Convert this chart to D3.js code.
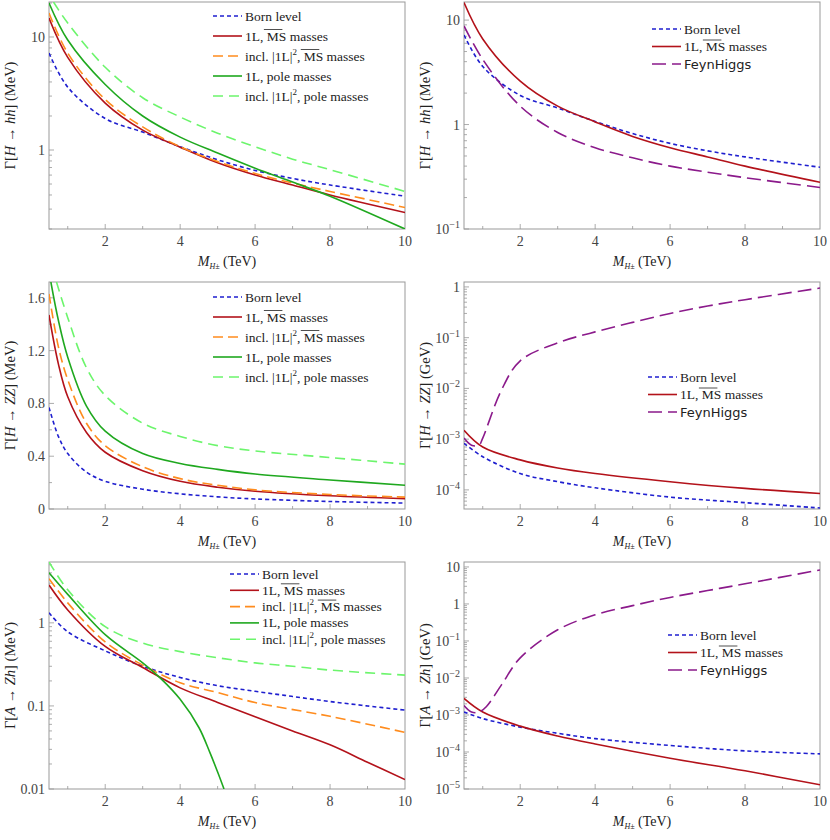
<!DOCTYPE html>
<html><head><meta charset="utf-8">
<script src="https://cdn.jsdelivr.net/npm/d3@7"></script>
<style>body{margin:0;background:#fff}text{font-family:"Liberation Serif",serif}</style>
</head><body><svg id="c" width="830" height="840"></svg>
<script>
// x grid (TeV) shared by most series
const xs = [0.5, 1, 2, 3, 4, 5, 6, 7, 8, 10];

// hh (MeV)
const hhBorn = [7.2, 3.6, 1.9, 1.44, 1.07, 0.82, 0.66, 0.56, 0.49, 0.39];
const hh1L = [14.7, 6.6, 2.6, 1.5, 1.06, 0.77, 0.60, 0.49, 0.40, 0.28];
const hh1L2 = [16.3, 7.2, 2.8, 1.6, 1.07, 0.79, 0.62, 0.51, 0.43, 0.31];
const hhPole = [20, 9.4, 3.8, 2.0, 1.3, 0.94, 0.69, 0.52, 0.39, 0.2];
const hhPoleX = [0.62, 1, 2, 3, 4, 5, 6, 7, 8, 10];
const hhPole2 = [20.4, 13.3, 5.4, 2.9, 1.96, 1.41, 1.07, 0.83, 0.67, 0.43];
const hhFH = [8.8, 4.2, 1.5, 0.84, 0.60, 0.48, 0.40, 0.35, 0.31, 0.25];

// ZZ (MeV)
const zzX = [0.5, 0.75, 1, 1.5, 2, 3, 4, 5, 6, 8, 10];
const zzBorn = [0.77, 0.55, 0.42, 0.28, 0.21, 0.15, 0.115, 0.092, 0.076, 0.057, 0.045];
const zz1L = [1.47, 1.1, 0.85, 0.58, 0.43, 0.29, 0.21, 0.165, 0.135, 0.10, 0.078];
const zz1L2 = [1.63, 1.23, 0.98, 0.65, 0.48, 0.32, 0.23, 0.18, 0.145, 0.11, 0.09];
const zzPoleX = [0.55, 0.75, 1, 1.5, 2, 3, 4, 5, 6, 8, 10];
const zzPole = [1.72, 1.43, 1.15, 0.78, 0.59, 0.42, 0.345, 0.30, 0.265, 0.22, 0.18];
const zzPole2X = [0.7, 1, 1.5, 2, 3, 4, 5, 6, 8, 10];
const zzPole2 = [1.72, 1.45, 1.07, 0.86, 0.65, 0.55, 0.48, 0.44, 0.39, 0.34];
// ZZ (GeV)
const zzGX = [0.5, 1, 2, 3, 4, 6, 8, 10];
const zzGBorn = [8.3e-4, 4.5e-4, 2.1e-4, 1.45e-4, 1.1e-4, 7.2e-5, 5.6e-5, 4.4e-5];
const zzG1L = [1.5e-3, 7.0e-4, 3.9e-4, 2.7e-4, 2.1e-4, 1.45e-4, 1.07e-4, 8.5e-5];
const zzFHX = [0.5, 0.7, 0.9, 1, 1.5, 2, 3, 4, 5, 6, 7, 8, 10];
const zzFH = [1.05e-3, 7.6e-4, 7.6e-4, 1.05e-3, 9.3e-3, 0.035, 0.079, 0.13, 0.2, 0.3, 0.42, 0.56, 0.95];

// Zh (MeV)
const zhX = [0.5, 1, 2, 3, 4, 5, 6, 7, 8, 9, 10];
const zhBorn = [1.32, 0.78, 0.46, 0.30, 0.22, 0.175, 0.15, 0.13, 0.113, 0.1, 0.089];
const zh1L = [2.85, 1.43, 0.52, 0.29, 0.165, 0.11, 0.074, 0.05, 0.034, 0.021, 0.013];
const zh1L2X = [0.5, 1, 2, 3, 4, 5, 6, 8, 10];
const zh1L2 = [3.4, 1.74, 0.59, 0.31, 0.19, 0.145, 0.11, 0.075, 0.048];
const zhPoleX = [0.5, 1, 2, 3, 3.5, 4, 4.5, 4.8, 5, 5.17];
const zhPole = [4.0, 2.2, 0.72, 0.33, 0.21, 0.12, 0.055, 0.027, 0.016, 0.01];
const zhPole2X = [0.5, 1, 2, 3, 4, 5, 6, 7, 8, 10];
const zhPole2 = [5.4, 2.5, 0.9, 0.57, 0.45, 0.38, 0.33, 0.30, 0.27, 0.235];
// Zh (GeV)
const zhGX = [0.5, 1, 2, 3, 4, 6, 8, 10];
const zhGBorn = [1.2e-3, 8e-4, 4.7e-4, 3.2e-4, 2.3e-4, 1.5e-4, 1.07e-4, 8.9e-5];
const zhG1L = [2.8e-3, 1.2e-3, 5e-4, 2.7e-4, 1.65e-4, 6.8e-5, 3.1e-5, 1.3e-5];
const zhFHX = [0.5, 0.7, 0.9, 1.1, 1.5, 2, 3, 4, 5, 6, 7, 8, 10];
const zhFH = [1.8e-3, 1.2e-3, 1.2e-3, 1.7e-3, 6.5e-3, 0.035, 0.2, 0.51, 0.9, 1.5, 2.3, 3.5, 8.3];

const xTicks = [2, 4, 6, 8, 10];

const st = {
  born: {c: "#1f1fcf", d: "4,3", name: [["Born level"]]},
  l1: {c: "#b3121a", d: null, name: [["1L, "], ["MS", "ov"], [" masses"]]},
  l12: {c: "#ff8c1e", d: "10,5", name: [["incl. |1L|"], ["2", "sup"], [", ", "down"], ["MS", "ov"], [" masses"]]},
  pole: {c: "#1fa81f", d: null, name: [["1L, pole masses"]]},
  pole2: {c: "#6cf56c", d: "10,6", name: [["incl. |1L|"], ["2", "sup"], [", pole masses", "down"]]},
  fh: {c: "#8b1a8b", d: "14,6", name: [["FeynHiggs", "sans"]]}
};

const rows = [2, 282, 562], H = 227;
const panels = [
  {x0: 49, y0: rows[0], log: true, dom: [0.2, 20.4], yt: [1, 10], yl: ["1", "10"], proc: ["H", "hh"], unit: "MeV",
   series: [["born", xs, hhBorn], ["l1", xs, hh1L], ["l12", xs, hh1L2], ["pole", xs, hhPole], ["pole2", hhPoleX, hhPole2]],
   leg: {x: 213, y: 16, dy: 20}},
  {x0: 464, y0: rows[0], log: true, dom: [0.1, 14.9], yt: [0.1, 1, 10], yl: [["10", "−1"], "1", "10"], proc: ["H", "hh"], unit: "MeV",
   series: [["born", xs, hhBorn], ["l1", xs, hh1L], ["fh", xs, hhFH]],
   leg: {x: 652, y: 29, dy: 17.5}},
  {x0: 49, y0: rows[1], log: false, dom: [0, 1.72], yt: [0, 0.4, 0.8, 1.2, 1.6], yl: ["0", "0.4", "0.8", "1.2", "1.6"], proc: ["H", "ZZ"], unit: "MeV",
   series: [["born", zzX, zzBorn], ["l1", zzX, zz1L], ["l12", zzX, zz1L2], ["pole", zzPoleX, zzPole], ["pole2", zzPole2X, zzPole2]],
   leg: {x: 213, y: 297, dy: 20}},
  {x0: 464, y0: rows[1], log: true, dom: [4.2e-5, 1.25], yt: [1e-4, 1e-3, 1e-2, 1e-1, 1], yl: [["10", "−4"], ["10", "−3"], ["10", "−2"], ["10", "−1"], "1"], proc: ["H", "ZZ"], unit: "GeV",
   series: [["born", zzGX, zzGBorn], ["l1", zzGX, zzG1L], ["fh", zzFHX, zzFH]],
   leg: {x: 648, y: 377, dy: 17.5}},
  {x0: 49, y0: rows[2], log: true, dom: [0.01, 5.4], yt: [0.01, 0.1, 1], yl: ["0.01", "0.1", "1"], proc: ["A", "Zh"], unit: "MeV",
   series: [["born", zhX, zhBorn], ["l1", zhX, zh1L], ["l12", zh1L2X, zh1L2], ["pole", zhPoleX, zhPole], ["pole2", zhPole2X, zhPole2]],
   leg: {x: 230, y: 574, dy: 16.3}},
  {x0: 464, y0: rows[2], log: true, dom: [1e-5, 13.6], yt: [1e-5, 1e-4, 1e-3, 1e-2, 1e-1, 1, 10], yl: [["10", "−5"], ["10", "−4"], ["10", "−3"], ["10", "−2"], ["10", "−1"], "1", "10"], proc: ["A", "Zh"], unit: "GeV",
   series: [["born", zhGX, zhGBorn], ["l1", zhGX, zhG1L], ["fh", zhFHX, zhFH]],
   leg: {x: 668, y: 635, dy: 17.5}}
];

const svg = d3.select("#c");
const W = 356;

panels.forEach((p, i) => {
  const g = svg.append("g");
  const x = d3.scaleLinear().domain([0.5, 10]).range([p.x0, p.x0 + W]);
  const y = (p.log ? d3.scaleLog() : d3.scaleLinear()).domain(p.dom).range([p.y0 + H, p.y0]);
  const bot = p.y0 + H;

  g.append("clipPath").attr("id", "cp" + i).append("rect")
    .attr("x", p.x0).attr("y", p.y0).attr("width", W).attr("height", H);

  // minor ticks
  const xMinor = d3.range(1, 10, 1);
  g.selectAll(".xm").data(xMinor).join("line")
    .attr("x1", d => x(d)).attr("x2", d => x(d))
    .attr("y1", bot).attr("y2", d => bot - (d % 2 === 0 ? 5 : 3))
    .attr("stroke", "#888").attr("stroke-width", 0.7);
  let yMinor;
  if (p.log) {
    yMinor = [];
    const lo = Math.floor(Math.log10(p.dom[0])), hi = Math.ceil(Math.log10(p.dom[1]));
    for (let e = lo; e < hi; e++) for (let k = 1; k < 10; k++) {
      const v = k * Math.pow(10, e);
      if (v >= p.dom[0] && v <= p.dom[1]) yMinor.push({v, major: k === 1});
    }
  } else {
    yMinor = d3.range(0, 1.72, 0.2).map(v => ({v, major: Math.round(v * 10) % 4 === 0}));
  }
  g.selectAll(".ym").data(yMinor).join("line")
    .attr("x1", p.x0).attr("x2", d => p.x0 + (d.major ? 5 : 3))
    .attr("y1", d => y(d.v)).attr("y2", d => y(d.v))
    .attr("stroke", "#888").attr("stroke-width", 0.7);

  // frame
  g.append("rect").attr("x", p.x0).attr("y", p.y0).attr("width", W).attr("height", H)
    .attr("fill", "none").attr("stroke", "#999").attr("stroke-width", 1);

  // tick labels
  g.selectAll(".xl").data(xTicks).join("text")
    .attr("x", d => x(d)).attr("y", bot + 17).attr("text-anchor", "middle")
    .attr("font-size", 14).attr("fill", "#444").text(d => d);
  p.yt.forEach((v, j) => {
    const t = g.append("text").attr("x", p.x0 - 4).attr("y", y(v) + 5)
      .attr("text-anchor", "end").attr("font-size", 14).attr("fill", "#444");
    const l = p.yl[j];
    if (Array.isArray(l)) {
      t.append("tspan").text(l[0]);
      t.append("tspan").attr("dy", -6).attr("font-size", 10).text(l[1]);
    } else t.text(l);
  });

  // axis titles
  const xl = g.append("text").attr("x", p.x0 + W / 2).attr("y", bot + 37)
    .attr("text-anchor", "middle").attr("font-size", 14).attr("fill", "#222");
  xl.append("tspan").attr("font-style", "italic").text("M");
  xl.append("tspan").attr("font-style", "italic").attr("font-size", 8).attr("dy", 3).text("H±");
  xl.append("tspan").attr("dy", -3).text(" (TeV)");

  const yl = g.append("text")
    .attr("transform", `translate(${p.x0 - 34},${p.y0 + H / 2}) rotate(-90)`)
    .attr("text-anchor", "middle").attr("font-size", 14.5).attr("fill", "#222");
  yl.append("tspan").text("Γ[");
  yl.append("tspan").attr("font-style", "italic").text(p.proc[0]);
  yl.append("tspan").text(" → ");
  yl.append("tspan").attr("font-style", "italic").text(p.proc[1]);
  yl.append("tspan").text("] (" + p.unit + ")");

  // curves (smoothed in log space)
  const line = d3.line().x(d => x(d[0])).y(d => y(d[1])).curve(d3.curveCatmullRom.alpha(0.5));
  g.append("g").attr("clip-path", `url(#cp${i})`).selectAll("path").data(p.series).join("path")
    .attr("d", s => line(s[1].map((xv, k) => [xv, s[2][k]])))
    .attr("fill", "none").attr("stroke", s => st[s[0]].c).attr("stroke-width", 1.6)
    .attr("stroke-dasharray", s => st[s[0]].d);

  // legend
  p.series.forEach((s, k) => {
    const sty = st[s[0]], ly = p.leg.y + k * p.leg.dy;
    g.append("line").attr("x1", p.leg.x).attr("x2", p.leg.x + 29).attr("y1", ly).attr("y2", ly)
      .attr("stroke", sty.c).attr("stroke-width", 1.6).attr("stroke-dasharray", sty.d);
    const tx = p.leg.x + 32;
    const t = g.append("text").attr("x", tx).attr("y", ly + 4.5)
      .attr("font-size", 13.5).attr("fill", "#222");
    let off = 0;
    sty.name.forEach(part => {
      const ts = t.append("tspan").text(part[0]);
      if (part[1] === "sup") ts.attr("dy", -6).attr("font-size", 9);
      if (part[1] === "down") ts.attr("dy", 6);
      if (part[1] === "sans") ts.attr("font-family", "DejaVu Sans").attr("font-size", 13);
      const w = ts.node().getComputedTextLength();
      if (part[1] === "ov") {
        g.append("line").attr("x1", tx + off + 0.5).attr("x2", tx + off + w - 0.5)
          .attr("y1", ly - 6.5).attr("y2", ly - 6.5).attr("stroke", "#222").attr("stroke-width", 0.8);
      }
      off += w;
    });
  });
});
</script></body></html>
